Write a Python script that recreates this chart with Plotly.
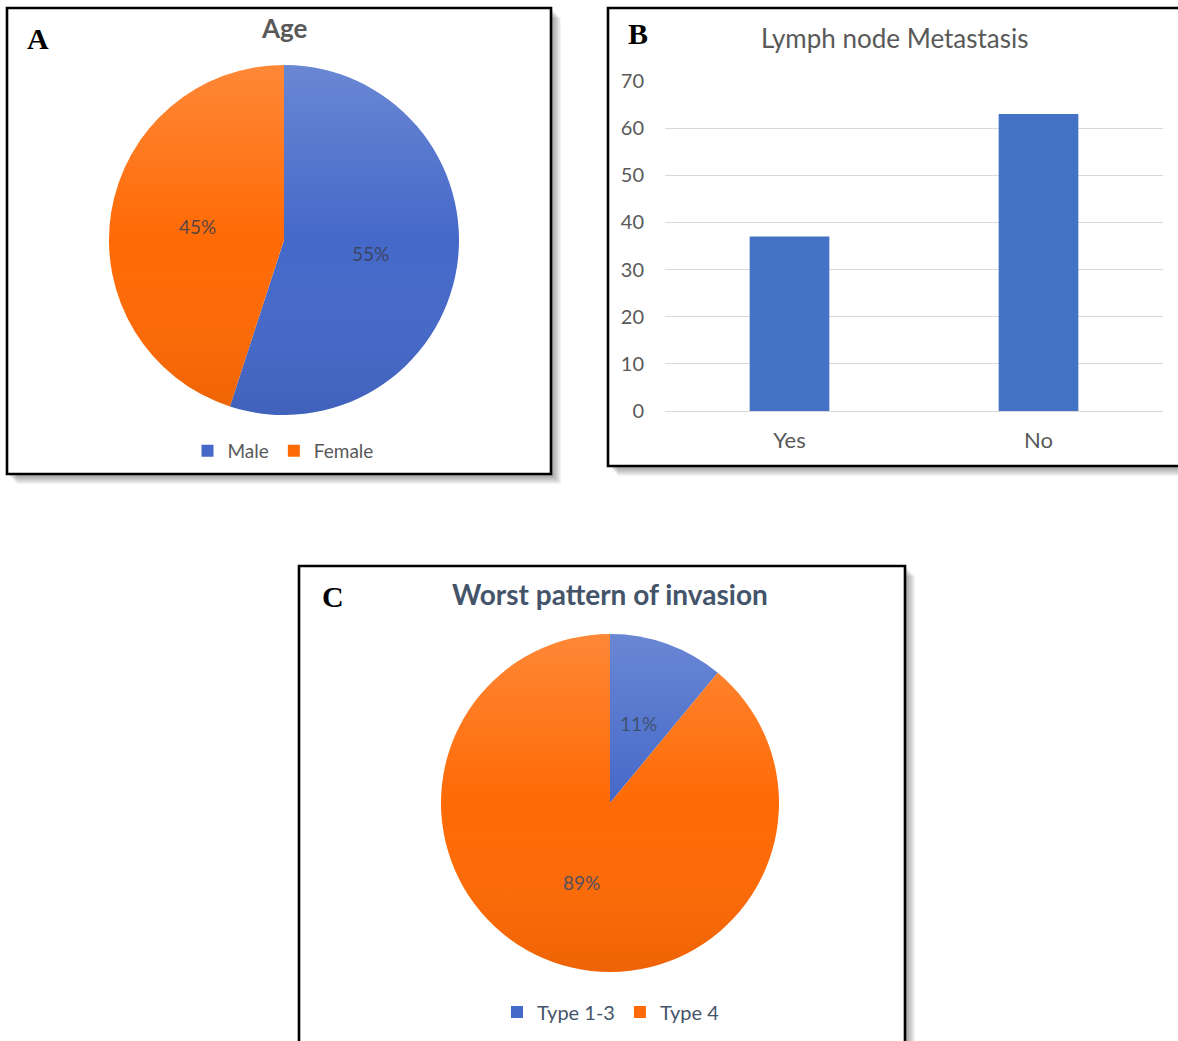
import base64
import math
import plotly.graph_objects as go

# Canvas size in pixels; layout positions below are given in pixels and
# converted to paper fractions.
W, H = 1178, 1041

# ---- data ----
age_labels = ["Male", "Female"]
age_values = [55, 45]

lymph_categories = ["Yes", "No"]
lymph_counts = [37, 63]
lymph_ticks = [0, 10, 20, 30, 40, 50, 60, 70]

wpoi_labels = ["Type 1-3", "Type 4"]
wpoi_values = [11, 89]

# ---- style ----
BAR_BLUE = "#4472C4"
PIE_BLUE = "#4569C9"
PIE_ORANGE = "#FF6A05"
GRAY_TXT = "#595959"
SLATE_TXT = "#44546A"
SANS = "Lato"
SERIF = "Liberation Serif"


def px(x):
    return x / W


def py(y):
    return 1 - y / H


fig = go.Figure()

# ---- panel A: Age pie ----
A_CX, A_CY, A_R = 284, 240, 175
fig.add_trace(go.Pie(
    labels=age_labels, values=age_values, sort=False, direction="clockwise",
    rotation=0, textinfo="none", hoverinfo="label+percent",
    marker=dict(colors=[PIE_BLUE, PIE_ORANGE], line=dict(width=0)),
    domain=dict(x=[px(A_CX - A_R), px(A_CX + A_R)],
                y=[py(A_CY + A_R), py(A_CY - A_R)]),
    legend="legend",
))

# ---- panel C: Worst pattern of invasion pie ----
C_CX, C_CY, C_R = 610, 803, 169
fig.add_trace(go.Pie(
    labels=wpoi_labels, values=wpoi_values, sort=False, direction="clockwise",
    rotation=0, textinfo="none", hoverinfo="label+percent",
    marker=dict(colors=[PIE_BLUE, PIE_ORANGE], line=dict(width=0)),
    domain=dict(x=[px(C_CX - C_R), px(C_CX + C_R)],
                y=[py(C_CY + C_R), py(C_CY - C_R)]),
    legend="legend2",
))

# ---- panel B: Lymph node metastasis bars ----
fig.add_trace(go.Bar(
    x=lymph_categories, y=lymph_counts, width=0.32,
    marker=dict(color=BAR_BLUE, line=dict(width=0)),
    showlegend=False, xaxis="x", yaxis="y",
))


# Percent labels placed halfway out along each slice's mid-angle
def slice_labels(values, cx, cy, r, color):
    total = float(sum(values))
    out = []
    start = 0.0
    for v in values:
        frac = v / total
        mid = (start + frac / 2) * 2 * math.pi
        start += frac
        x = cx + 0.5 * r * math.sin(mid)
        y = cy - 0.5 * r * math.cos(mid)
        out.append(dict(
            x=px(x), y=py(y), xref="paper", yref="paper",
            text=f"{round(frac * 100)}%", showarrow=False,
            font=dict(family=SANS, size=19, color=color),
            xanchor="center", yanchor="middle",
        ))
    return out


annotations = []
annotations += slice_labels(age_values, A_CX, A_CY, A_R, "rgba(55,60,80,0.85)")
annotations += slice_labels(wpoi_values, C_CX, C_CY, C_R, "rgba(60,75,105,0.9)")

# Chart titles
annotations += [
    dict(x=px(284), y=py(28), text="<b>Age</b>", showarrow=False,
         xref="paper", yref="paper", xanchor="center", yanchor="middle",
         font=dict(family=SANS, size=26, color=GRAY_TXT)),
    dict(x=px(895), y=py(38), text="Lymph node Metastasis", showarrow=False,
         xref="paper", yref="paper", xanchor="center", yanchor="middle",
         font=dict(family=SANS, size=26, color=GRAY_TXT)),
    dict(x=px(610), y=py(594), text="<b>Worst pattern of invasion</b>",
         showarrow=False, xref="paper", yref="paper",
         xanchor="center", yanchor="middle",
         font=dict(family=SANS, size=28, color=SLATE_TXT)),
]

# Panel letters
for letter, lx, ly in [("A", 38, 39), ("B", 638, 33), ("C", 333, 596)]:
    annotations.append(dict(
        x=px(lx), y=py(ly), text=f"<b>{letter}</b>", showarrow=False,
        xref="paper", yref="paper", xanchor="center", yanchor="middle",
        font=dict(family=SERIF, size=30, color="black"),
    ))

# Framed panels with a soft drop shadow
shapes = []


def framed(x0, y0, x1, y1):
    for i in range(1, 11):
        shapes.append(dict(
            type="rect", xref="paper", yref="paper", layer="below",
            x0=px(x0 + i), x1=px(x1 + i), y0=py(y1 + i), y1=py(y0 + i),
            fillcolor="rgba(0,0,0,0.045)", line=dict(width=0),
        ))
    shapes.append(dict(
        type="rect", xref="paper", yref="paper", layer="below",
        x0=px(x0), x1=px(x1), y0=py(y1), y1=py(y0),
        fillcolor="white", line=dict(color="black", width=2.6),
    ))


framed(7, 8, 551, 474)
framed(608, 8, 1200, 466)
framed(299, 566, 905, 1080)

# Soft top-to-bottom shading laid over each pie disc
shade_svg = (
    "<svg xmlns='http://www.w3.org/2000/svg' viewBox='0 0 100 100'>"
    "<defs><linearGradient id='g' x1='0' y1='0' x2='0' y2='1'>"
    "<stop offset='0' stop-color='white' stop-opacity='0.2'/>"
    "<stop offset='0.5' stop-color='white' stop-opacity='0'/>"
    "<stop offset='1' stop-color='black' stop-opacity='0.07'/>"
    "</linearGradient></defs>"
    "<circle cx='50' cy='50' r='50' fill='url(#g)'/></svg>"
)
shade_src = "data:image/svg+xml;base64," + base64.b64encode(
    shade_svg.encode()).decode()

images = []
for cx, cy, r in [(A_CX, A_CY, A_R), (C_CX, C_CY, C_R)]:
    images.append(dict(
        source=shade_src, xref="paper", yref="paper",
        x=px(cx - r), y=py(cy - r), sizex=2 * r / W, sizey=2 * r / H,
        xanchor="left", yanchor="top", sizing="stretch", layer="above",
    ))

legend_common = dict(
    orientation="h", xanchor="center", yanchor="middle",
    bgcolor="rgba(0,0,0,0)", borderwidth=0, itemwidth=30,
    tracegroupgap=0, itemclick=False, itemdoubleclick=False,
)

fig.update_layout(
    width=W, height=H,
    margin=dict(l=0, r=0, t=0, b=0, autoexpand=False),
    paper_bgcolor="white", plot_bgcolor="rgba(0,0,0,0)",
    font=dict(family=SANS, color=GRAY_TXT),
    showlegend=True,
    legend=dict(x=px(283), y=py(451),
                font=dict(family=SANS, size=19, color=GRAY_TXT),
                **legend_common),
    legend2=dict(x=px(611), y=py(1012),
                 font=dict(family=SANS, size=20, color=SLATE_TXT),
                 **legend_common),
    xaxis=dict(
        domain=[px(665), px(1163)], range=[-0.5, 1.5], type="category",
        showgrid=False, zeroline=False, showline=False, ticks="",
        tickfont=dict(family=SANS, size=22, color=GRAY_TXT),
        ticklabelstandoff=14, anchor="y", fixedrange=True,
    ),
    yaxis=dict(
        domain=[py(411), py(81)], range=[0, 70], tickvals=lymph_ticks,
        showgrid=True, gridcolor="#D9D9D9", gridwidth=1.3,
        zeroline=True, zerolinecolor="#D9D9D9", zerolinewidth=1.3,
        showline=False, ticks="",
        tickfont=dict(family=SANS, size=20, color=GRAY_TXT),
        ticklabelstandoff=20, anchor="x", fixedrange=True,
    ),
    annotations=annotations,
    shapes=shapes,
    images=images,
)

fig.write_html("out.html")
